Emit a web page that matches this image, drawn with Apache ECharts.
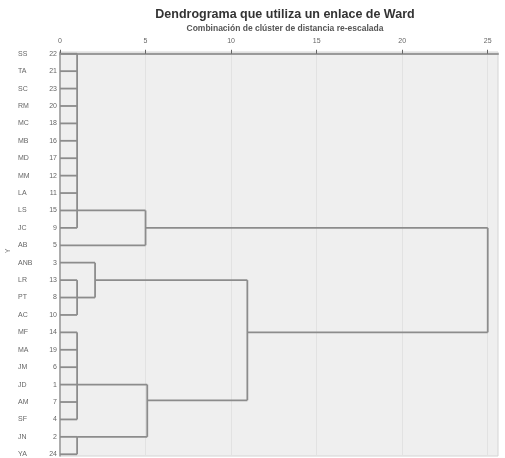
<!DOCTYPE html>
<html>
<head>
<meta charset="utf-8">
<script src="https://cdn.jsdelivr.net/npm/echarts@6/dist/echarts.min.js"></script>
<style>
  html, body { margin: 0; padding: 0; background: #fff; }
  #chart { width: 505px; height: 458px; }
</style>
</head>
<body>
<div id="chart"></div>
<script>
// leaves, top to bottom
const caseNames = ["SS", "TA", "SC", "RM", "MC", "MB", "MD", "MM", "LA", "LS", "JC", "AB",
  "ANB", "LR", "PT", "AC", "MF", "MA", "JM", "JD", "AM", "SF", "JN", "YA"];
const caseNumbers = [22, 21, 23, 20, 18, 16, 17, 12, 11, 15, 9, 5, 3, 13, 8, 10, 14, 19, 6, 1, 7, 4, 2, 24];
const distTicks = [0, 5, 10, 15, 20, 25];

// joins: children (0-23 = leaves, 24+ = earlier joins), distance, row the joined line leaves from
const joinChildren = [
  [0, 1, 2, 3, 4, 5, 6, 7, 8, 9, 10], // 24
  [24, 11],                            // 25
  [13, 14, 15],                        // 26
  [12, 26],                            // 27
  [16, 17, 18, 19, 20, 21],            // 28
  [22, 23],                            // 29
  [28, 29],                            // 30
  [27, 30],                            // 31
  [25, 31]                             // 32
];
const joinDist = [1.0, 5.0, 1.0, 2.05, 1.0, 1.0, 5.1, 10.95, 25.0];
const joinRow = [9, 10, 14, 13, 19, 22, 19.9, 16, 13];

const nLeaves = caseNames.length;
const rowTicks = caseNames.map((d, i) => i);

function nodeDist(n) { return n < nLeaves ? 0 : joinDist[n - nLeaves]; }
function nodeRow(n) { return n < nLeaves ? n : joinRow[n - nLeaves]; }

const chart = echarts.init(document.getElementById("chart"));
const lineCol = "#8c8c8c";

chart.setOption({
  animation: false,
  grid: {
    left: 60, top: 52, width: 438, height: 404,
    show: true, backgroundColor: "#efefef", borderColor: "#d4d4d4", borderWidth: 1
  },
  graphic: [
    { type: "text", x: 285, y: 15, style: { text: "Dendrograma que utiliza un enlace de Ward",
        font: "bold 12.5px 'Liberation Sans', Arial, sans-serif", fill: "#333", align: "center", verticalAlign: "middle" } },
    { type: "text", x: 285, y: 29, style: { text: "Combinación de clúster de distancia re-escalada",
        font: "bold 8.5px 'Liberation Sans', Arial, sans-serif", fill: "#555", align: "center", verticalAlign: "middle" } },
    { type: "text", x: 8, y: 251, rotation: Math.PI / 2, style: { text: "Y",
        font: "7px 'Liberation Sans', Arial, sans-serif", fill: "#777", align: "center", verticalAlign: "middle" } }
  ],
  xAxis: {
    type: "value", position: "top", min: 0, max: 25.6, interval: 5,
    axisLine: { show: true, lineStyle: { color: "#9a9a9a", width: 2 } },
    axisTick: { show: true, length: 4, customValues: distTicks, lineStyle: { color: "#666" } },
    axisLabel: { customValues: distTicks, fontSize: 7, color: "#666", margin: 7,
      fontFamily: "Liberation Sans" },
    splitLine: { show: true, lineStyle: { color: "#e2e2e2" } }
  },
  yAxis: [
    {
      type: "value", min: -0.1, max: 23.1, inverse: true, position: "left",
      axisLine: { show: true, lineStyle: { color: "#999", width: 1.5 } },
      axisTick: { show: false },
      axisLabel: { customValues: rowTicks, formatter: v => String(caseNumbers[Math.round(v)]),
        fontSize: 7, color: "#666", margin: 3, fontFamily: "Liberation Sans" },
      splitLine: { show: false }
    },
    {
      type: "value", min: -0.1, max: 23.1, inverse: true, position: "left",
      axisLine: { show: false }, axisTick: { show: false },
      axisLabel: { customValues: rowTicks, formatter: v => caseNames[Math.round(v)],
        align: "left", fontSize: 7, color: "#666", margin: 42, fontFamily: "Liberation Sans" },
      splitLine: { show: false }
    }
  ],
  series: [{
    type: "custom",
    xAxisIndex: 0, yAxisIndex: 0,
    data: joinDist.map((d, i) => [d, joinRow[i]]),
    renderItem: function (params, api) {
      const i = params.dataIndex;
      const d = joinDist[i];
      const kids = joinChildren[i];
      const rows = kids.map(nodeRow);
      const children = [];
      kids.forEach(k => {
        const a = api.coord([nodeDist(k), nodeRow(k)]);
        const b = api.coord([d, nodeRow(k)]);
        children.push({ type: "line", shape: { x1: a[0], y1: a[1], x2: b[0], y2: b[1] },
          style: { stroke: lineCol, lineWidth: 1.8 } });
      });
      const top = api.coord([d, Math.min.apply(null, rows)]);
      const bot = api.coord([d, Math.max.apply(null, rows)]);
      children.push({ type: "line", shape: { x1: top[0], y1: top[1], x2: bot[0], y2: bot[1] },
        style: { stroke: lineCol, lineWidth: 1.8 } });
      return { type: "group", children: children };
    }
  }]
});
</script>
</body>
</html>
